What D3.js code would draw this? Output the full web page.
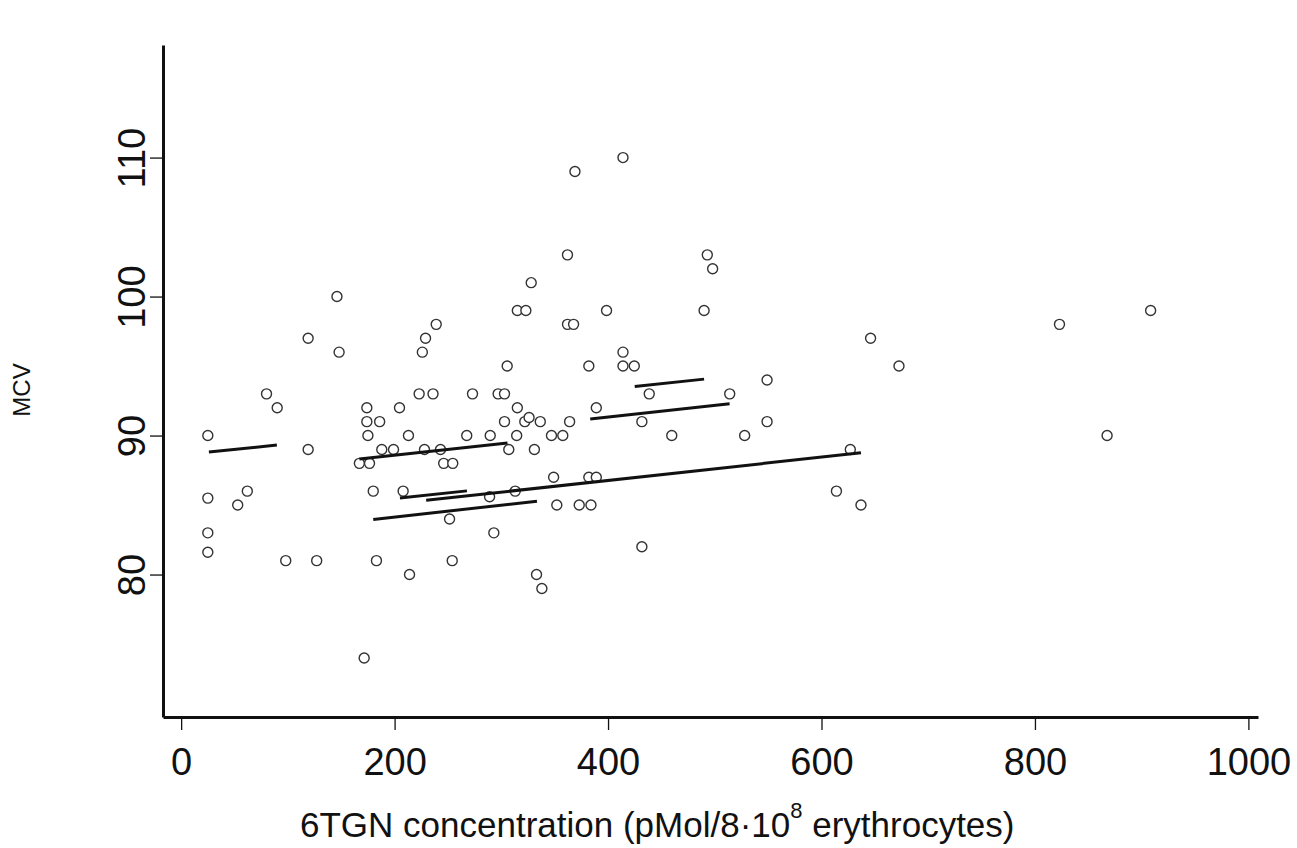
<!DOCTYPE html>
<html>
<head>
    <meta charset="utf-8">
    <title>MCV vs 6TGN</title>
    <script src="https://d3js.org/d3.v7.min.js"></script>
    <style>
      body { margin: 0; background: #fff; }
      text { font-family: "Liberation Sans", Arial, sans-serif; fill: #111; }
    </style>
</head>
<body>
<div id="my_dataviz"></div>
<script>

// 6TGN concentration (x) and MCV (y) for each sample
var tgn = [25, 25, 25, 25, 53, 62, 80, 90, 98, 119, 119, 127, 146, 148, 167, 171.5, 174, 174, 175, 176.5,
           180, 183, 186, 188, 199, 204.6, 208, 213, 214, 223, 226, 228, 229, 236, 239, 243, 246, 251.5, 254.5, 254,
           267.6, 273, 289.6, 289, 293, 297, 303, 303, 305.5, 307, 313, 314.4, 315, 315, 322, 323, 326, 328, 331, 333,
           336.5, 338, 347, 349, 352, 357.6, 362, 362, 364, 367.7, 369, 373, 382, 384, 382, 389, 389, 398.6, 414, 414,
           424.6, 431.7, 431.7, 438.6, 459.7, 490, 493, 498, 514, 528, 549, 549, 614, 627, 637, 646, 672.6, 823, 867.6, 908.4,
           414];
var mcv = [90, 85.5, 83, 81.6, 85, 86, 93, 92, 81, 97, 89, 81, 100, 96, 88, 74, 92, 91, 90, 88,
           86, 81, 91, 89, 89, 92, 86, 90, 80, 93, 96, 89, 97, 93, 98, 89, 88, 84, 88, 81,
           90, 93, 90, 85.6, 83, 93, 93, 91, 95, 89, 86, 90, 92, 99, 91, 99, 91.3, 101, 89, 80,
           91, 79, 90, 87, 85, 90, 103, 98, 91, 98, 109, 85, 87, 85, 95, 87, 92, 99, 96, 95,
           95, 91, 82, 93, 90, 99, 103, 102, 93, 90, 91, 94, 86, 89, 85, 97, 95, 98, 90, 99,
           110];

// fitted line segments, one per patient
var fitX1 = [26, 167, 205, 229.6, 180, 425, 383.3];
var fitY1 = [88.81, 88.31, 85.5, 85.34, 83.96, 93.53, 91.19];
var fitX2 = [89.7, 305.8, 267.8, 637, 333.4, 490, 513.9];
var fitY2 = [89.32, 89.46, 86.02, 88.76, 85.28, 94.06, 92.28];

var xTicks = [0, 200, 400, 600, 800, 1000];
var yTicks = [80, 90, 100, 110];

var width = 1297, height = 848;

var svg = d3.select("#my_dataviz")
  .append("svg")
    .attr("width", width)
    .attr("height", height);

var x = d3.scaleLinear().domain([-17, 1009]).range([163, 1258]);
var y = d3.scaleLinear().domain([69.75, 118.1]).range([717, 45]);

// X axis
var xAxis = svg.append("g")
  .attr("transform", "translate(0,717)")
  .call(d3.axisBottom(x).tickValues(xTicks).tickFormat(d3.format("d")).tickSize(13).tickSizeOuter(0));
xAxis.select(".domain").attr("stroke", "#111").attr("stroke-width", 3);
xAxis.selectAll(".tick line").attr("stroke", "#111").attr("stroke-width", 1.3);
xAxis.selectAll(".tick text")
  .attr("y", 58).attr("dy", 0)
  .style("font-size", "38px");

// Y axis
var yAxis = svg.append("g")
  .attr("transform", "translate(163,0)")
  .call(d3.axisLeft(y).tickValues(yTicks).tickSize(13).tickSizeOuter(0));
yAxis.select(".domain").attr("stroke", "#111").attr("stroke-width", 3);
yAxis.selectAll(".tick line").attr("stroke", "#111").attr("stroke-width", 1.3);
yAxis.selectAll(".tick text")
  .attr("x", null).attr("dy", 0)
  .attr("text-anchor", "middle")
  .attr("transform", "translate(-18,0) rotate(-90)")
  .style("font-size", "38px");

// points
svg.append("g")
  .selectAll("circle")
  .data(tgn)
  .enter()
  .append("circle")
    .attr("cx", function(d) { return x(d); })
    .attr("cy", function(d, i) { return y(mcv[i]); })
    .attr("r", 5)
    .attr("fill", "#fff")
    .attr("stroke", "#333")
    .attr("stroke-width", 1.4);

// fitted lines
svg.append("g")
  .selectAll("line")
  .data(fitX1)
  .enter()
  .append("line")
    .attr("x1", function(d) { return x(d); })
    .attr("y1", function(d, i) { return y(fitY1[i]); })
    .attr("x2", function(d, i) { return x(fitX2[i]); })
    .attr("y2", function(d, i) { return y(fitY2[i]); })
    .attr("stroke", "#111")
    .attr("stroke-width", 3);

// axis titles
var xl = svg.append("text")
  .attr("x", 300)
  .attr("y", 837)
  .style("font-size", "35px");
xl.append("tspan").text("6TGN concentration (pMol/8\u00b710");
xl.append("tspan").attr("dy", -19).style("font-size", "22px").text("8");
xl.append("tspan").attr("dy", 19).text(" erythrocytes)");

svg.append("text")
  .attr("transform", "translate(30,390) rotate(-90)")
  .attr("text-anchor", "middle")
  .style("font-size", "24px")
  .text("MCV");

</script>
</body>
</html>
